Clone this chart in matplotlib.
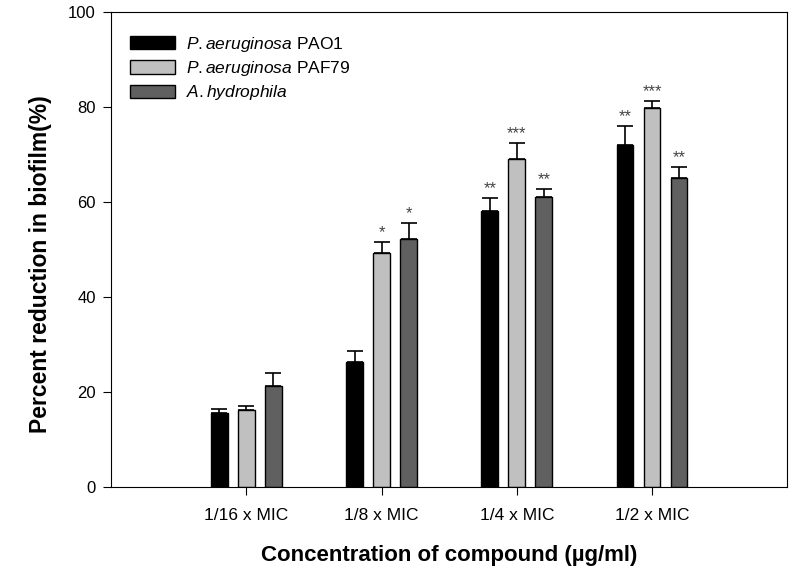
import matplotlib.pyplot as plt
import numpy as np

plt.rcParams['font.family'] = ['Liberation Sans', 'DejaVu Sans']
plt.rcParams['mathtext.fontset'] = 'custom'
plt.rcParams['mathtext.rm'] = 'Liberation Sans'
plt.rcParams['mathtext.it'] = 'Liberation Sans:italic'

# data
groups = ["1/16 x MIC", "1/8 x MIC", "1/4 x MIC", "1/2 x MIC"]
pao1 = [15.5, 26.4, 58.1, 72.1]
pao1_err = [0.9, 2.2, 2.7, 3.9]
paf79 = [16.2, 49.2, 69.1, 79.9]
paf79_err = [0.8, 2.4, 3.4, 1.4]
hydro = [21.3, 52.2, 61.1, 65.0]
hydro_err = [2.7, 3.3, 1.6, 2.4]
pao1_sig = ["", "", "**", "**"]
paf79_sig = ["", "*", "***", "***"]
hydro_sig = ["", "*", "**", "**"]

series = [
    (pao1, pao1_err, pao1_sig, "black", r"$\it{P. aeruginosa}$ PAO1"),
    (paf79, paf79_err, paf79_sig, "#c0c0c0", r"$\it{P. aeruginosa}$ PAF79"),
    (hydro, hydro_err, hydro_sig, "#606060", r"$\it{A. hydrophila}$"),
]

fig = plt.figure(figsize=(8, 5.74), dpi=100)
ax = fig.add_axes([0.139, 0.1516, 0.845, 0.8274])

x = np.arange(1, len(groups) + 1)
w = 0.125
step = 0.2

for i, (vals, errs, sig, col, lab) in enumerate(series):
    xs = x + (i - 1) * step
    ax.bar(xs, vals, width=w, color=col, edgecolor="black", linewidth=1.0,
           label=lab, zorder=2)
    ax.errorbar(xs, vals, yerr=[np.zeros(len(errs)), errs], fmt="none",
                ecolor="black", elinewidth=1.2, capsize=6, capthick=1.2,
                zorder=3)
    # significance stars
    for xx, v, e, s in zip(xs, vals, errs, sig):
        if s:
            ax.text(xx, v + e + 0.4, s, ha="center", va="bottom",
                    fontsize=12, color="#444444")

ax.set_xlim(0, 5)
ax.set_ylim(0, 100)
ax.set_xticks(x)
ax.set_xticklabels(groups, fontsize=12.5)
ax.set_yticks(np.arange(0, 101, 20))
ax.tick_params(axis="y", labelsize=12, length=6, direction="out", pad=5)
ax.tick_params(axis="x", length=6, direction="out", pad=9)

ax.set_ylabel("Percent reduction in biofilm(%)", fontsize=16.5,
              fontweight="bold")
ax.yaxis.set_label_coords(-0.087, 0.47)
ax.set_xlabel("Concentration of compound (\u00b5g/ml)", fontsize=16,
              fontweight="bold", labelpad=16)

ax.legend(loc="upper left", bbox_to_anchor=(0.005, 0.985), frameon=False,
          fontsize=12.5, handlelength=2.6, handleheight=0.8,
          labelspacing=0.3, handletextpad=0.6)

fig.savefig("out.png", dpi=100)
